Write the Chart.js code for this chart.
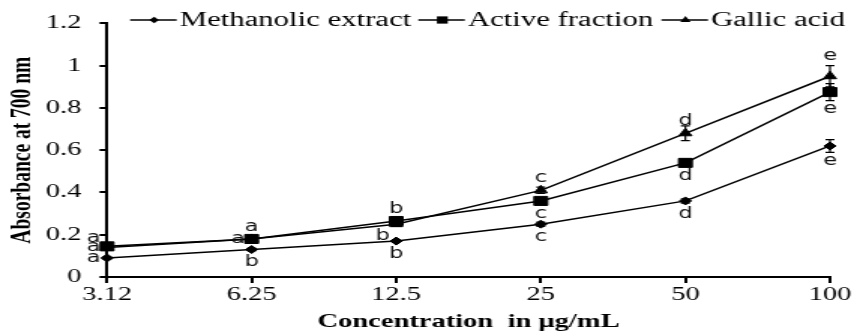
<!DOCTYPE html>
<html>
<head>
<meta charset="utf-8">
<script src="https://cdn.jsdelivr.net/npm/chart.js@4.4.1/dist/chart.umd.min.js"></script>
<style>
    html, body { margin: 0; padding: 0; background: #fff; overflow: hidden; }
    /* the reference is stretched sideways, so draw narrow and widen it */
    #wrap { width: 569px; height: 333px; transform: scaleX(1.50088); transform-origin: 0 0; }
</style>
</head>
<body>
<div id="wrap"><canvas id="chart" width="569" height="333"></canvas></div>
<script>
const concentrations = ['3.12', '6.25', '12.5', '25', '50', '100'];

const methanolic = [0.09, 0.13, 0.17, 0.25, 0.36, 0.62];
const activeFraction = [0.145, 0.18, 0.265, 0.36, 0.54, 0.875];
const gallicAcid = [0.14, 0.18, 0.25, 0.41, 0.68, 0.95];

const methanolicErr = [0.005, 0.005, 0.005, 0.01, 0.01, 0.03];
const activeErr = [0.005, 0.01, 0.01, 0.01, 0.015, 0.04];
const gallicErr = [0.005, 0.005, 0.01, 0.015, 0.035, 0.05];

const methanolicLetters = ['a', 'b', 'b', 'c', 'd', 'e'];
const activeLetters = ['a', 'a', 'b', 'c', 'd', 'e'];
const gallicLetters = ['a', 'a', 'b', 'c', 'd', 'e'];

// where each letter sits relative to its point
const methanolicPlace = ['left', 'below', 'below', 'below', 'below', 'below'];
const activePlace = ['upleft', 'left', 'above', 'below', 'below', 'below'];
const gallicPlace = ['left', 'above', 'downleft', 'above', 'above', 'over'];

const series = [
    { label: 'Methanolic extract', data: methanolic, err: methanolicErr, letters: methanolicLetters, place: methanolicPlace, style: 'rectRot', radius: 4 },
    { label: 'Active fraction', data: activeFraction, err: activeErr, letters: activeLetters, place: activePlace, style: 'rect', radius: 6.4 },
    { label: 'Gallic acid', data: gallicAcid, err: gallicErr, letters: gallicLetters, place: gallicPlace, style: 'triangle', radius: 5 },
];

// legend sample start for each entry (canvas px before the sideways stretch)
const legendStarts = [86.7, 278.7, 440.7];

const serif = '"Liberation Serif", "Times New Roman", serif';

const errorBars = {
    id: 'errorBars',
    afterDatasetsDraw(chart) {
        const ctx = chart.ctx;
        const y = chart.scales.y;
        ctx.save();
        ctx.strokeStyle = '#000';
        ctx.lineWidth = 1.2;
        series.forEach((s, i) => {
            chart.getDatasetMeta(i).data.forEach((pt, j) => {
                const top = y.getPixelForValue(s.data[j] + s.err[j]);
                const bot = y.getPixelForValue(s.data[j] - s.err[j]);
                ctx.beginPath();
                ctx.moveTo(pt.x, top); ctx.lineTo(pt.x, bot);
                ctx.moveTo(pt.x - 3, top); ctx.lineTo(pt.x + 3, top);
                ctx.moveTo(pt.x - 3, bot); ctx.lineTo(pt.x + 3, bot);
                ctx.stroke();
            });
        });
        ctx.restore();
    },
};

const letterLabels = {
    id: 'letterLabels',
    afterDatasetsDraw(chart) {
        const ctx = chart.ctx;
        const y = chart.scales.y;
        ctx.save();
        ctx.fillStyle = '#111';
        ctx.font = '15px "DejaVu Sans", sans-serif';
        ctx.textAlign = 'center';
        ctx.textBaseline = 'middle';
        series.forEach((s, i) => {
            chart.getDatasetMeta(i).data.forEach((pt, j) => {
                const errPx = y.getPixelForValue(0) - y.getPixelForValue(s.err[j]);
                let dx = 0, dy = 0;
                switch (s.place[j]) {
                    case 'above': dy = -12; break;
                    case 'over': dy = -(errPx + 10); break;
                    case 'below': dy = Math.max(13, errPx + 9); break;
                    case 'left': dx = -9; break;
                    case 'upleft': dx = -9; dy = -8; break;
                    case 'downleft': dx = -9; dy = 12; break;
                }
                ctx.fillText(s.letters[j], pt.x + dx, pt.y + dy);
            });
        });
        ctx.restore();
    },
};

function marker(ctx, style, x, y, r) {
    ctx.beginPath();
    if (style === 'rectRot') {
        ctx.moveTo(x, y - r); ctx.lineTo(x + r, y); ctx.lineTo(x, y + r); ctx.lineTo(x - r, y);
    } else if (style === 'rect') {
        const h = r * Math.SQRT1_2;
        ctx.rect(x - h, y - h, 2 * h, 2 * h);
    } else {
        ctx.moveTo(x, y - r); ctx.lineTo(x + r * 0.87, y + r * 0.5); ctx.lineTo(x - r * 0.87, y + r * 0.5);
    }
    ctx.closePath();
    ctx.fill();
}

const topLegend = {
    id: 'topLegend',
    afterDraw(chart) {
        const ctx = chart.ctx;
        const cy = 20;
        ctx.save();
        ctx.font = '20.5px ' + serif;
        ctx.textBaseline = 'middle';
        ctx.fillStyle = '#000';
        ctx.strokeStyle = '#000';
        ctx.lineWidth = 1.5;
        series.forEach((s, i) => {
            const x = legendStarts[i];
            ctx.beginPath();
            ctx.moveTo(x, cy); ctx.lineTo(x + 31, cy);
            ctx.stroke();
            marker(ctx, s.style, x + 16, cy, s.radius * 0.8);
            ctx.fillText(s.label, x + 33, cy + 1);
        });
        ctx.restore();
    },
};

new Chart(document.getElementById('chart'), {
    type: 'line',
    data: {
        labels: concentrations,
        datasets: series.map((s) => ({
            label: s.label,
            data: s.data,
            borderColor: '#000',
            backgroundColor: '#000',
            borderWidth: 1.5,
            pointStyle: s.style,
            pointRadius: s.radius,
            pointBackgroundColor: '#000',
            pointBorderColor: '#000',
            pointBorderWidth: 1,
            tension: 0,
        })),
    },
    options: {
        responsive: false,
        animation: false,
        events: [],
        layout: { padding: { left: 0, right: 16, top: 21, bottom: 0 } },
        plugins: {
            legend: { display: false },
            tooltip: { enabled: false },
        },
        scales: {
            x: {
                offset: false,
                afterFit: (scale) => { scale.height = 56; },
                grid: { drawOnChartArea: false, drawTicks: true, tickLength: 6, color: '#000', lineWidth: 2 },
                border: { display: true, color: '#000', width: 2 },
                ticks: { color: '#000', font: { family: serif, size: 19 }, padding: 1, maxRotation: 0, autoSkip: false },
                title: {
                    display: true,
                    text: 'Concentration  in μg/mL',
                    color: '#000',
                    font: { family: serif, size: 19, weight: 'bold' },
                    padding: { top: 0, bottom: 0 },
                },
            },
            y: {
                min: 0,
                max: 1.2,
                afterFit: (scale) => { scale.width = 71.3; },
                grid: { drawOnChartArea: false, drawTicks: true, tickLength: 5, color: '#000', lineWidth: 2 },
                border: { display: true, color: '#000', width: 2 },
                ticks: {
                    stepSize: 0.2,
                    color: '#000',
                    font: { family: serif, size: 19 },
                    padding: 12,
                    callback: (v) => String(Number(v.toFixed(1))),
                },
                title: {
                    display: true,
                    text: 'Absorbance at 700 nm',
                    color: '#000',
                    font: { family: serif, size: 19.5, weight: 'bold' },
                    padding: { top: 3, bottom: 0 },
                },
            },
        },
    },
    plugins: [errorBars, letterLabels, topLegend],
});
</script>
</body>
</html>
